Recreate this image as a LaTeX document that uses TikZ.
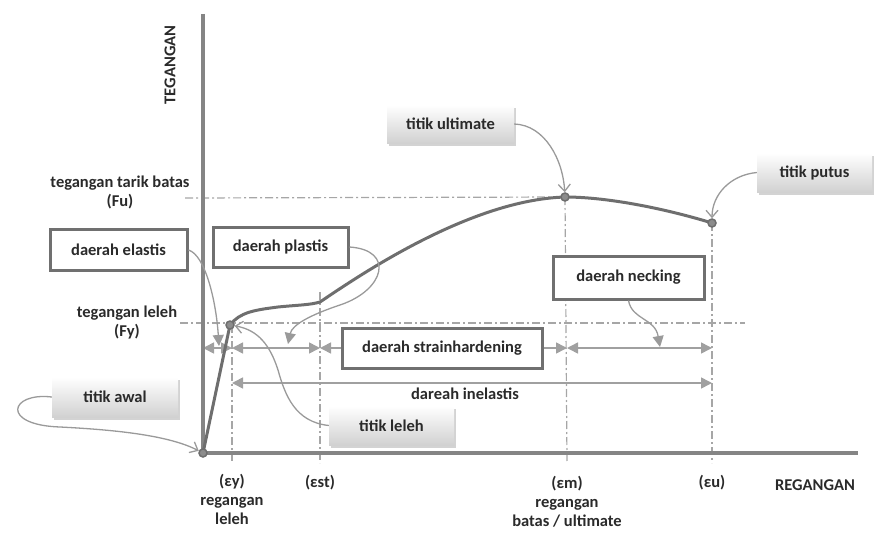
\documentclass[tikz,border=0pt]{standalone}
\usepackage{fontspec}
\setmainfont{Carlito}
\usetikzlibrary{arrows.meta,shadows}
\definecolor{txt}{HTML}{2A2A2A}
\definecolor{axisgray}{HTML}{858585}
\definecolor{curvegray}{HTML}{6E6E6E}
\definecolor{dashgray}{HTML}{A6A6A6}
\definecolor{arrgray}{HTML}{A0A0A0}
\definecolor{boxgray}{HTML}{707070}
\definecolor{callgray}{HTML}{9A9A9A}
\tikzset{
  lbl/.style={text=txt, font=\fontsize{16.5}{19}\selectfont\bfseries, inner sep=0pt, align=center},
  axisline/.style={draw=axisgray, line width=4pt},
  stresscurve/.style={draw=curvegray, line width=3pt, line join=round},
  dashdot/.style={draw=dashgray, line width=1.2pt, dash pattern=on 8pt off 3pt on 2pt off 3pt},
  rangearrow/.style={draw=arrgray, line width=1.6pt, {Triangle[length=11pt,width=11pt,fill=arrgray]}-{Triangle[length=11pt,width=11pt,fill=arrgray]}},
  plainbox/.style={lbl, draw=boxgray, line width=3pt, fill=white},
  gradbox/.style={lbl, top color=white, bottom color=black!18, drop shadow={shadow xshift=1.5pt, shadow yshift=-2.5pt, opacity=.35}},
  callopen/.style={draw=callgray, line width=1.3pt, -{Straight Barb[length=7pt,width=12pt]}},
  callfill/.style={draw=callgray, line width=1.3pt, -{Triangle[length=11pt,width=11pt,fill=callgray]}},
  dot/.style={circle, draw=curvegray, fill=black!45, line width=1.5pt, minimum size=8pt, inner sep=0pt},
}
\begin{document}
\begin{tikzpicture}[x=1pt,y=-1pt]
\useasboundingbox (0,0) rectangle (874,535);
% key coordinates
\coordinate (O) at (203,453);
\coordinate (Y) at (230,325);
\coordinate (ST) at (320,302);
\coordinate (U) at (565,197);
\coordinate (B) at (712,223);
% dash-dot guide lines
\coordinate (fu1) at (185,198);
\coordinate (fy1) at (180,323);
\coordinate (fy2) at (745,323);
\coordinate (ey1) at (232,325);
\coordinate (ey2) at (232,463);
\coordinate (es1) at (320,292);
\coordinate (es2) at (320,463);
\coordinate (em2) at (567,463);
\coordinate (eu2) at (712,463);
\draw[dashdot] (fu1) -- (U);
\draw[dashdot] (fy1) -- (fy2);
\draw[dashdot] (ey1) -- (ey2);
\draw[dashdot] (es1) -- (es2);
\draw[dashdot] (U) -- (em2);
\draw[dashdot] (B) -- (eu2);
% range arrows
\coordinate (r0) at (203,348);
\coordinate (r1) at (232,348);
\coordinate (r2) at (320,348);
\coordinate (r3) at (567,348);
\coordinate (r4) at (712,348);
\coordinate (s1) at (232,383);
\coordinate (s2) at (712,383);
\draw[rangearrow] (r0) -- (r1);
\draw[rangearrow] (r1) -- (r2);
\draw[rangearrow] (r2) -- (r3);
\draw[rangearrow] (r3) -- (r4);
\draw[rangearrow] (s1) -- (s2);
% axes
\coordinate (ytop) at (203,14);
\coordinate (xend) at (858,453);
\draw[axisline] (ytop) -- (O) -- (xend);
% stress-strain curve
\draw[stresscurve] (O) -- (Y) .. controls (240,312) and (255,310) .. (278,307)
  .. controls (298,305) and (310,305) .. (ST)
  .. controls (360,275) and (470,200) .. (U)
  .. controls (610,197) and (670,210) .. (B);
\node[dot] (pO) at (O) {};
\node[dot] (pY) at (Y) {};
\node[dot] (pU) at (U) {};
\node[dot] (pB) at (B) {};
% boxes
\node[plainbox, minimum width=137pt, minimum height=41pt] (elastis) at (118.5,250) {daerah elastis};
\node[plainbox, minimum width=135pt, minimum height=40pt] (plastis) at (280.5,247) {daerah plastis};
\node[plainbox, minimum width=200pt, minimum height=40pt] (strain) at (442,348) {daerah strainhardening};
\node[plainbox, minimum width=151pt, minimum height=43pt] (necking) at (628.5,277.5) {daerah necking};
\node[gradbox, minimum width=126pt, minimum height=40pt] (awal) at (115,397) {titik awal};
\node[gradbox, minimum width=125pt, minimum height=39pt] (leleh) at (391.5,425.5) {titik leleh};
\node[gradbox, minimum width=127pt, minimum height=38pt] (ult) at (450.5,124) {titik ultimate};
\node[gradbox, minimum width=115pt, minimum height=39pt] (putus) at (814.5,172.5) {titik putus};
% callouts
\coordinate (tElas) at (219,346);
\coordinate (tPlas) at (288,344);
\coordinate (tNeck) at (660,347);
\draw[callopen] (awal.west) .. controls (10,392) and (0,425) .. (60,427)
  .. controls (120,430) and (170,436) .. (pO);
\draw[callfill] (elastis.east) .. controls (205,255) and (216,300) .. (tElas);
\draw[callfill] (plastis.east) .. controls (395,250) and (385,290) .. (340,305)
  .. controls (310,315) and (292,325) .. (tPlas);
\draw[callopen] (leleh.west) .. controls (295,422) and (285,395) .. (278,370)
  .. controls (270,345) and (258,330) .. (pY);
\draw[callopen] (ult.east) .. controls (545,125) and (563,160) .. (pU);
\draw[callopen] (putus.west) .. controls (730,175) and (712,195) .. (pB);
\draw[callfill] (necking.south) .. controls (632,320) and (655,318) .. (tNeck);
% labels
\node[lbl] (fu) at (120,192) {tegangan tarik batas\\(Fu)};
\node[lbl] (fy) at (127,323) {tegangan leleh\\(Fy)};
\node[lbl] (inel) at (465,394) {dareah inelastis};
\node[lbl] (ey) at (232,499) {(εy)\\regangan\\leleh};
\node[lbl] (est) at (320,483) {(εst)};
\node[lbl] (em) at (567,502) {(εm)\\regangan\\batas / ultimate};
\node[lbl] (eu) at (712,483) {(εu)};
\node[lbl] (reg) at (815,485) {REGANGAN};
\node[lbl, rotate=90] (teg) at (170,65) {TEGANGAN};
\end{tikzpicture}
\end{document}
